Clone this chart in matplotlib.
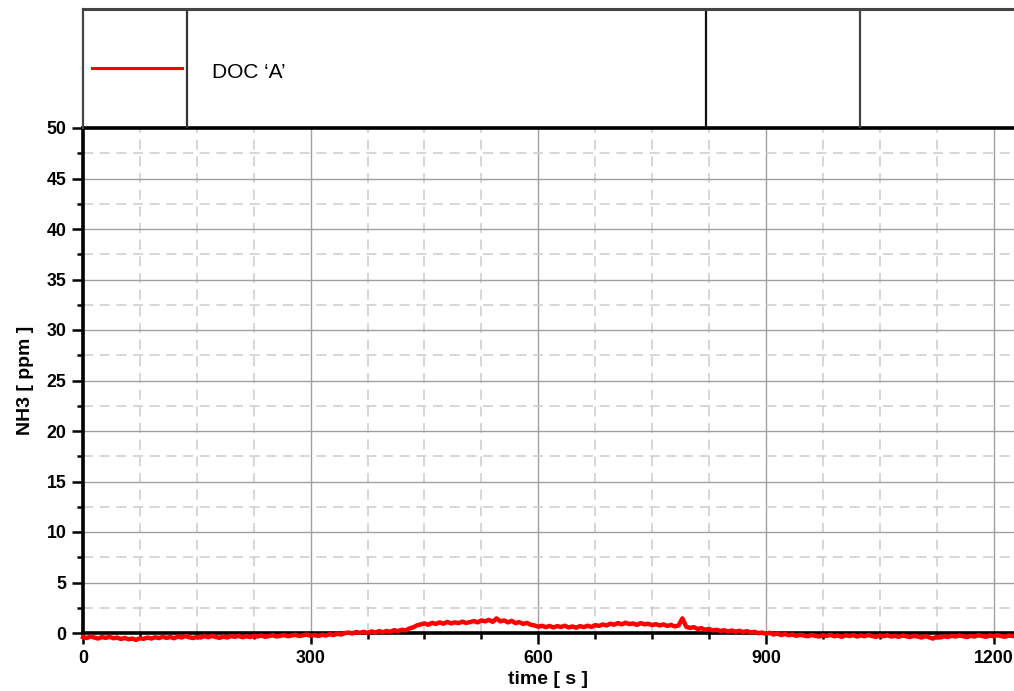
import matplotlib
matplotlib.use("Agg")
import matplotlib.pyplot as plt
from matplotlib.ticker import MultipleLocator, FixedLocator

plt.rcParams['font.family'] = ['Liberation Sans', 'DejaVu Sans']

series_name = "DOC \u2018A\u2019"
x_label = "time [ s ]"
y_label = "NH3 [ ppm ]"
x_ticks = [0, 300, 600, 900, 1200]
y_ticks = [0, 5, 10, 15, 20, 25, 30, 35, 40, 45, 50]

time_s = list(range(0, 1230, 5))
nh3_ppm = [
    -0.40, -0.50, -0.35, -0.45, -0.55, -0.40, -0.48, -0.38, -0.52, -0.45,
    -0.60, -0.48, -0.62, -0.55, -0.68, -0.52, -0.58, -0.45, -0.55, -0.42,
    -0.50, -0.38, -0.48, -0.40, -0.52, -0.35, -0.45, -0.30, -0.42, -0.50,
    -0.38, -0.45, -0.30, -0.42, -0.28, -0.40, -0.48, -0.35, -0.45, -0.30,
    -0.38, -0.28, -0.42, -0.32, -0.40, -0.28, -0.35, -0.25, -0.38, -0.30,
    -0.22, -0.35, -0.28, -0.20, -0.32, -0.25, -0.18, -0.30, -0.22, -0.15,
    -0.28,
    -0.20, -0.30, -0.18, -0.25, -0.12, -0.20, -0.08, -0.15, -0.02, 0.05,
    -0.05, 0.10, 0.02, 0.12, 0.00, 0.15, 0.05, 0.18, 0.08, 0.20,
    0.12, 0.28, 0.18, 0.32, 0.25, 0.45, 0.55, 0.75, 0.85, 0.95,
    0.82, 1.00, 0.90, 1.05, 0.92, 1.10, 0.95, 1.05, 0.98, 1.12,
    1.00, 1.08, 1.18, 1.05, 1.25, 1.15, 1.30, 1.10, 1.45, 1.15,
    1.25, 1.05, 1.20, 0.98, 1.08, 0.90, 1.00, 0.82, 0.75, 0.62,
    0.72, 0.58, 0.70, 0.55, 0.68, 0.60, 0.72, 0.55, 0.65, 0.52,
    0.68, 0.58, 0.72, 0.60, 0.78, 0.70, 0.85, 0.75, 0.92, 0.82,
    0.98, 0.85, 1.02, 0.88, 0.95, 0.80, 0.98, 0.85, 0.92, 0.78,
    0.88, 0.75, 0.85, 0.70, 0.80, 0.65, 0.75, 1.45, 0.62, 0.50,
    0.58, 0.40, 0.48, 0.32, 0.40, 0.25, 0.32, 0.20, 0.28, 0.15,
    0.25, 0.12, 0.22, 0.10, 0.18, 0.05, 0.12, -0.02, 0.05, -0.08,
    0.02, -0.15, -0.05, -0.20, -0.10, -0.22, -0.15, -0.28, -0.18, -0.25,
    -0.32, -0.20, -0.28, -0.35, -0.22, -0.30, -0.18, -0.32, -0.25, -0.38,
    -0.22, -0.30, -0.20, -0.35, -0.25, -0.32, -0.20, -0.30, -0.38, -0.25,
    -0.32, -0.22, -0.35, -0.28, -0.38, -0.25, -0.32, -0.40, -0.28, -0.35,
    -0.45, -0.30, -0.42, -0.55, -0.38, -0.45, -0.32, -0.40, -0.28, -0.35,
    -0.25, -0.32, -0.40, -0.28, -0.35, -0.22, -0.30, -0.38, -0.25, -0.32,
    -0.22, -0.30, -0.38, -0.25, -0.30,
]
n = min(len(time_s), len(nh3_ppm))
time_s = time_s[:n]
nh3_ppm = nh3_ppm[:n]

W, H = 1014, 691
fig = plt.figure(figsize=(W / 100, H / 100), dpi=100)

# main axes
ax_l, ax_r, ax_t, ax_b = 83, 1014, 128, 633
ax = fig.add_axes([ax_l / W, 1 - ax_b / H, (ax_r - ax_l) / W, (ax_b - ax_t) / H])
ax.set_xlim(0, 1227)
ax.set_ylim(0, 50)

ax.xaxis.set_major_locator(FixedLocator(x_ticks))
ax.xaxis.set_minor_locator(MultipleLocator(75))
ax.yaxis.set_major_locator(FixedLocator(y_ticks))
ax.yaxis.set_minor_locator(MultipleLocator(2.5))

ax.grid(which='major', color='#a0a0a0', linestyle='-', linewidth=1.0)
ax.grid(which='minor', color='#cfcfcf', linestyle=(0, (6, 4)), linewidth=1.2)
ax.set_axisbelow(True)

ax.plot(time_s, nh3_ppm, color='#ff0000', linewidth=3.2, clip_on=False, zorder=5)

for side in ['left', 'bottom', 'top']:
    ax.spines[side].set_color('black')
    ax.spines[side].set_linewidth(2.6)
ax.spines['right'].set_visible(False)
ax.spines['bottom'].set_zorder(4)

ax.tick_params(axis='both', which='major', direction='out', length=8, width=1.8,
               colors='black', labelsize=12.8)
ax.tick_params(axis='both', which='minor', direction='out', length=4.5, width=1.8,
               colors='black')
ax.tick_params(axis='x', which='major', pad=4)
ax.tick_params(axis='y', which='major', pad=4)
for lab in ax.get_xticklabels() + ax.get_yticklabels():
    lab.set_fontweight('bold')

ax.set_xlabel(x_label, fontsize=14, fontweight='bold', labelpad=3)
ax.set_ylabel(y_label, fontsize=14, fontweight='bold', labelpad=9)

# legend box on top
lb_t = 9
lax = fig.add_axes([ax_l / W, 1 - ax_t / H, (ax_r - ax_l) / W, (ax_t - lb_t) / H])
lax.set_xlim(ax_l, ax_r)
lax.set_ylim(ax_t, lb_t)
lax.set_xticks([])
lax.set_yticks([])
for side in ['right', 'bottom']:
    lax.spines[side].set_visible(False)
lax.spines['top'].set_color('#444444')
lax.spines['top'].set_linewidth(2.2)
lax.spines['left'].set_color('#444444')
lax.spines['left'].set_linewidth(1.6)
lax.patch.set_alpha(0)
for xd, c in [(187, '#333333'), (706, '#111111'), (860, '#444444')]:
    lax.axvline(xd, color=c, linewidth=1.6)
lax.plot([92, 182], [68, 68], color='#ff0000', linewidth=2.2)
lax.text(212, 72, series_name, fontsize=15, va='center', ha='left', color='black')

fig.savefig('out.png', dpi=100)
